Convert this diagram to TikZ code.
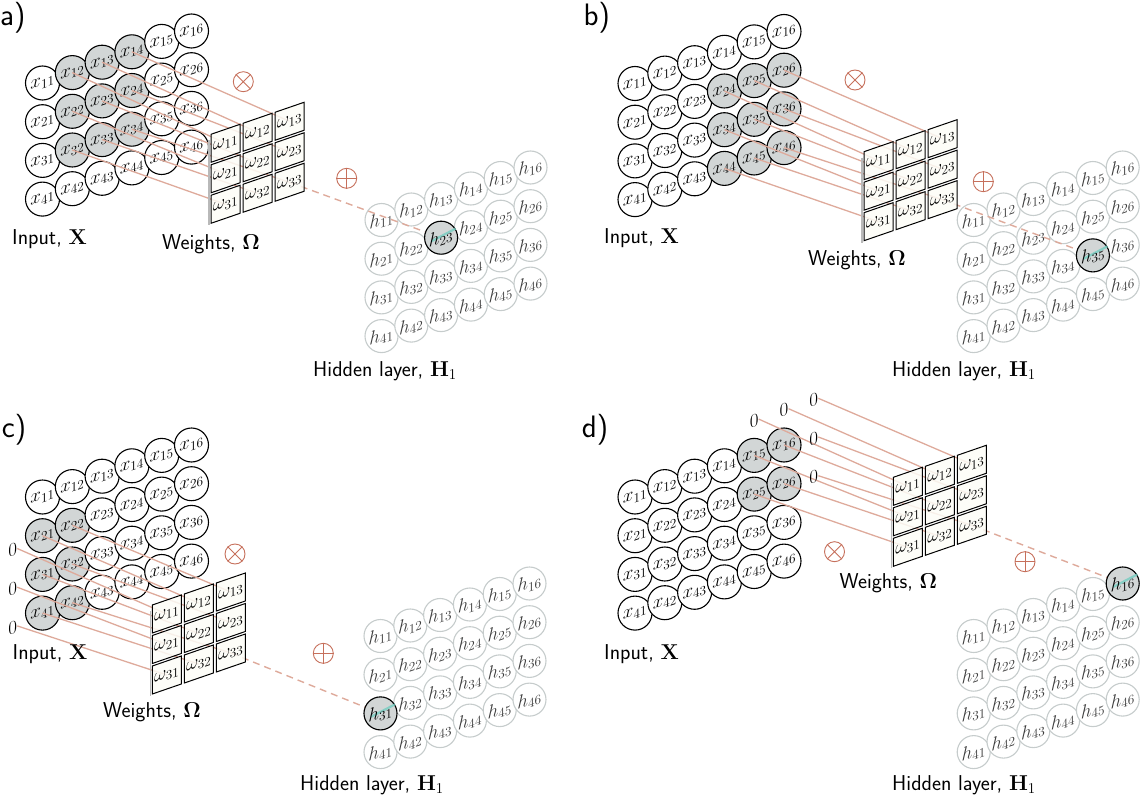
\RequirePackage{fix-cm}
\documentclass[tikz,border=0pt]{standalone}
\usepackage{amsmath}
\usetikzlibrary{calc}
\definecolor{redline}{RGB}{222,170,155}
\definecolor{symred}{RGB}{198,112,92}
\definecolor{hlgray}{RGB}{210,214,214}
\definecolor{hgray}{RGB}{198,204,204}
\definecolor{htext}{RGB}{60,60,60}
\definecolor{tealmark}{RGB}{110,205,192}
\definecolor{boxfill}{RGB}{253,253,247}
\tikzset{
 incirc/.style={circle, draw=black, line width=1.1pt, minimum size=34pt, inner sep=0pt},
 hcirc/.style={circle, draw=hgray, fill=white, line width=1.1pt, minimum size=33pt, inner sep=0pt},
 hhl/.style={circle, draw=black, fill=hlgray, line width=1.1pt, minimum size=33pt, inner sep=0pt},
 slab/.style={inner sep=0pt, yslant=0.35, font=\fontsize{19}{19}\selectfont},
 kline/.style={draw=redline, line width=1.3pt},
 dline/.style={draw=redline, line width=1.4pt, dash pattern=on 7pt off 5pt},
 wbox/.style={draw=black, line width=1pt, fill=boxfill, fill opacity=0.85},
 symb/.style={circle, draw=symred, line width=0.9pt, minimum size=20pt, inner sep=0pt},
 symline/.style={draw=symred, line width=0.9pt},
 lab/.style={inner sep=0pt, anchor=base west, font=\fontsize{21.5}{24}\selectfont\sffamily},
 plab/.style={inner sep=0pt, anchor=base west, font=\fontsize{31}{34}\selectfont\sffamily},
}
\newcommand\DrawPanel{%
 % weight box centres
 \foreach \k in {1,2,3}{\foreach \l in {1,2,3}{
   \coordinate (\pnl-w-\k-\l) at ({\pWX+32*(\l-1)+14.5},{\pWY-11*(\l-1)+30.5*(\k-1)+9});
 }}
 % hidden layer
 \foreach \i in {1,...,4}{\foreach \j in {1,...,6}{
   \node[hcirc] (\pnl-h-\i-\j) at ({\pHX+29.8*(\j-1)},{\pHY-10.5*(\j-1)+38.7*(\i-1)}) {};
   \node[slab, text=htext] (\pnl-hl-\i-\j) at (\pnl-h-\i-\j) {$h_{\i\j}$};
 }}
 \pgfmathtruncatemacro\HR{\pKR+1}
 \pgfmathtruncatemacro\HC{\pKC+1}
 \draw[dline] (\pnl-w-3-3) -- (\pnl-h-\HR-\HC.center);
 \node[hhl] (\pnl-hh) at (\pnl-h-\HR-\HC) {};
 \draw[tealmark, line width=2.2pt, opacity=0.75] ([shift={(200:10pt)}]\pnl-hh.center) -- (\pnl-hh.32);
 \node[slab] (\pnl-hhl) at (\pnl-hh) {$h_{\HR\HC}$};
 % input
 \foreach \i in {1,...,4}{\foreach \j in {1,...,6}{
   \pgfmathtruncatemacro\inK{(\i>=\pKR)&&(\i<=\pKR+2)&&(\j>=\pKC)&&(\j<=\pKC+2)}
   \ifnum\inK=1 \def\fc{hlgray}\else\def\fc{white}\fi
   \node[incirc, fill=\fc] (\pnl-x-\i-\j) at ({\pIX+29.8*(\j-1)},{\pIY-10.4*(\j-1)+38.7*(\i-1)}) {};
   \node[slab] (\pnl-xl-\i-\j) at (\pnl-x-\i-\j) {$x_{\i\j}$};
 }}
 % kernel lines and zero padding
 \foreach \k in {1,2,3}{\foreach \l in {1,2,3}{
   \pgfmathtruncatemacro\ri{\pKR+\k-1}
   \pgfmathtruncatemacro\cj{\pKC+\l-1}
   \pgfmathtruncatemacro\inG{(\ri>=1)&&(\ri<=4)&&(\cj>=1)&&(\cj<=6)}
   \ifnum\inG=1
     \draw[kline] (\pnl-x-\ri-\cj.center) -- (\pnl-w-\k-\l);
   \else
     \node[slab] (\pnl-z-\ri-\cj) at ({\pIX+29.8*(\cj-1)},{\pIY-10.4*(\cj-1)+38.7*(\ri-1)+4}) {$0$};
     \draw[kline] (\pnl-z-\ri-\cj.east) -- (\pnl-w-\k-\l);
   \fi
 }}
 % weights
 \draw[gray!55, line width=1.2pt] ({\pWX-2},{\pWY+6}) -- ({\pWX-2},{\pWY+91});
 \foreach \k in {1,2,3}{\foreach \l in {1,2,3}{
   \path[wbox] ($(\pnl-w-\k-\l)+(-14.5,-9)$) -- ++(29,-10) -- ++(0,28) -- ++(-29,10) -- cycle;
   \node[slab] (\pnl-wl-\k-\l) at (\pnl-w-\k-\l) {$\omega_{\k\l}$};
 }}
 % operators
 \node[symb] (\pnl-ot) at (\pOTX,\pOTY) {};
 \draw[symline] (\pnl-ot.north west) -- (\pnl-ot.south east) (\pnl-ot.north east) -- (\pnl-ot.south west);
 \node[symb] (\pnl-op) at (\pOPX,\pOPY) {};
 \draw[symline] (\pnl-op.north) -- (\pnl-op.south) (\pnl-op.east) -- (\pnl-op.west);
 % labels
 \node[plab] (\pnl-tag) at (\pTX,\pTY) {\pnl)};
 \node[lab] (\pnl-in) at (\pINX,\pINY) {Input, $\mathbf{X}$};
 \node[lab] (\pnl-wt) at (\pWLX,\pWLY) {Weights, $\mathbf{\Omega}$};
 \node[lab] (\pnl-hd) at (\pHLX,\pHLY) {Hidden layer, $\mathbf{H}_1$};
}
\begin{document}
\begin{tikzpicture}[x=1pt,y=-1pt]
\useasboundingbox (0,0) rectangle (1141,797);
% panel a
\def\pnl{a}\def\pIX{42.5}\def\pIY{83}\def\pWX{211}\def\pWY{134.3}\def\pHX{381.5}\def\pHY{220}\def\pKR{1}\def\pKC{2}
\def\pOTX{243.3}\def\pOTY{81.7}\def\pOPX{346.7}\def\pOPY{178.3}
\def\pTX{0}\def\pTY{26}\def\pINX{12}\def\pINY{244.5}\def\pWLX{162}\def\pWLY{249.3}\def\pHLX{313}\def\pHLY{376.7}
\DrawPanel
% panel b
\def\pnl{b}\def\pIX{635}\def\pIY{83.5}\def\pWX{864}\def\pWY{151.7}\def\pHX{973.7}\def\pHY{220}\def\pKR{2}\def\pKC{4}
\def\pOTX{855}\def\pOTY{80}\def\pOPX{983.3}\def\pOPY{181.7}
\def\pTX{583.3}\def\pTY{25.5}\def\pINX{604}\def\pINY{243.5}\def\pWLX{808}\def\pWLY{265}\def\pHLX{892}\def\pHLY{376.7}
\DrawPanel
% panel c
\def\pnl{c}\def\pIX{42.5}\def\pIY{497}\def\pWX{152.3}\def\pWY{605}\def\pHX{380.5}\def\pHY{636}\def\pKR{2}\def\pKC{0}
\def\pOTX{235}\def\pOTY{554}\def\pOPX{323.3}\def\pOPY{653.3}
\def\pTX{1.7}\def\pTY{437}\def\pINX{12.5}\def\pINY{659.5}\def\pWLX{103}\def\pWLY{717}\def\pHLX{300}\def\pHLY{790.7}
\DrawPanel
% panel d
\def\pnl{d}\def\pIX{635}\def\pIY{497}\def\pWX{893.3}\def\pWY{477.3}\def\pHX{973.7}\def\pHY{636}\def\pKR{0}\def\pKC{5}
\def\pOTX{834.5}\def\pOTY{551.7}\def\pOPX{1025}\def\pOPY{561.7}
\def\pTX{581.7}\def\pTY{437}\def\pINX{604}\def\pINY{659}\def\pWLX{839.3}\def\pWLY{588.3}\def\pHLX{892}\def\pHLY{790}
\DrawPanel
\end{tikzpicture}
\end{document}
